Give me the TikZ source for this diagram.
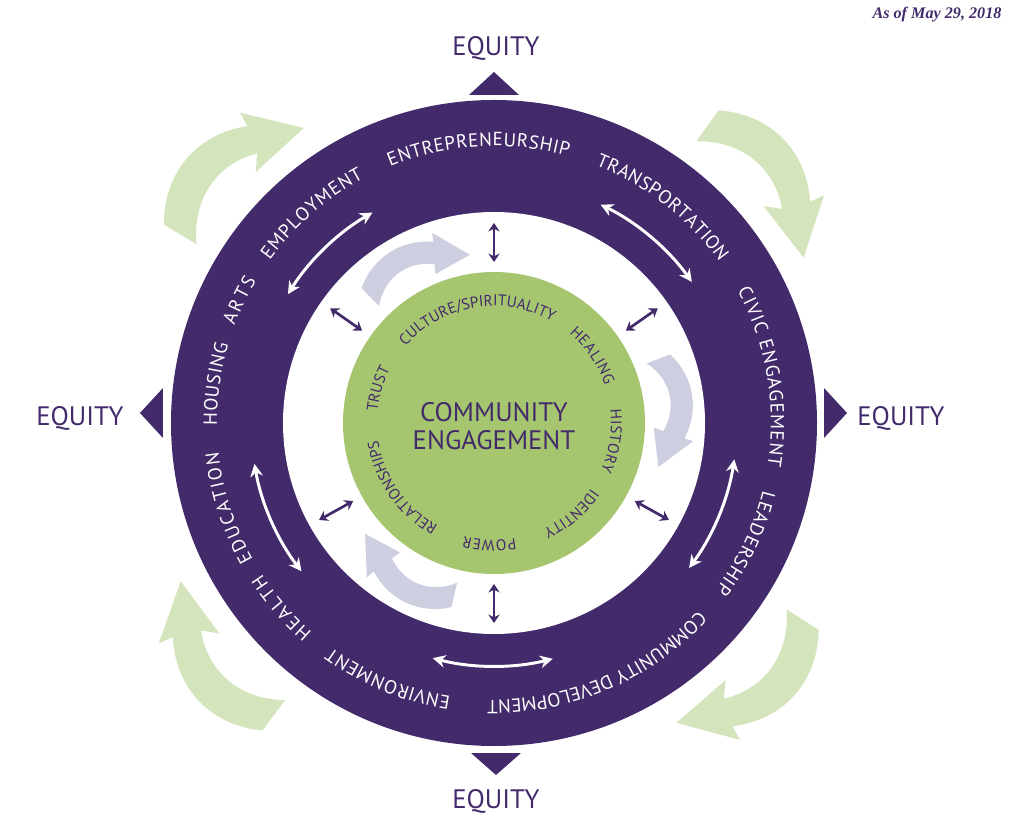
\documentclass[tikz,border=0pt]{standalone}
\usepackage{fontspec}
\setmainfont{PT Sans}
\newfontfamily\datefont{Liberation Serif}
\usetikzlibrary{arrows.meta}
\usetikzlibrary{decorations.text}
\definecolor{cepurple}{RGB}{66,42,107}
\definecolor{cegreen}{RGB}{166,197,111}
\definecolor{celightgreen}{RGB}{212,228,188}
\definecolor{cegrey}{RGB}{205,207,224}
\newcommand{\ringfont}{\fontsize{13.5}{13.5}\selectfont}
\newcommand{\corefont}{\fontsize{11}{11}\selectfont}
% curved arrows, #1 = tail angle
\newcommand{\greenswoosh}[1]{%
  \fill[celightgreen] (#1:348)
    -- plot[domain=0:1, samples=16, variable=\u] ({#1-19.3*\u}:{385+\u+80*\u*(1-\u)})
    -- (#1-19.7:401) -- (#1-26.2:351) -- (#1-15.5:346)
    -- plot[domain=0:1, samples=16, variable=\u] ({#1-17.7*(1-\u)}:{347+12*(1-\u)+68*\u*(1-\u)})
    -- cycle;}
\newcommand{\greyswoosh}[1]{%
  \fill[cegrey] (#1:164)
    -- plot[domain=0:1, samples=16, variable=\u] ({#1-26*\u}:{189+2*\u+40*\u*(1-\u)})
    -- (#1-26.5:200) -- (#1-36.3:170) -- (#1-23:160)
    -- plot[domain=0:1, samples=16, variable=\u] ({#1-24*(1-\u)}:{164+5.5*(1-\u)+44*\u*(1-\u)})
    -- cycle;}
\tikzset{
  equity/.style={text=cepurple, font=\fontsize{19}{19}\selectfont},
  core/.style={text=cepurple, align=center, font=\fontsize{19}{19.5}\selectfont},
  date/.style={text=cepurple, font=\datefont\bfseries\itshape\fontsize{11.5}{11.5}\selectfont},
  ringtext/.style={decorate, decoration={text along path, text align=fit to path, text color=white}},
  coretext/.style={decorate, decoration={text along path, text align=fit to path, text color=cepurple}},
  smallarrow/.style={cepurple, line width=1.9pt, <->, >={Stealth[length=6pt, width=8pt]}},
  whitearrow/.style={white, line width=2.1pt, <->, >={Stealth[length=9pt, width=9pt]}}
}
\begin{document}
\begin{tikzpicture}[x=0.025cm, y=0.025cm]
\useasboundingbox (-494,-411) rectangle (530,423);

% Outer swooshes
\greenswoosh{149}
\greenswoosh{54.3}
\greenswoosh{327.5}
\greenswoosh{233}

% Rings
\fill[cepurple] (0,0) circle[radius=323];
\fill[white] (0,0) circle[radius=211];

% Inner swooshes
\greyswoosh{134.5}
\greyswoosh{21.3}
\greyswoosh{257}

\fill[cegreen] (0,0) circle[radius=151];

% Equity markers
\fill[cepurple] (-25,328) -- (0,351) -- (25,328) -- cycle;
\fill[cepurple] (-23,-330) -- (2,-352) -- (27,-330) -- cycle;
\fill[cepurple] (-331,35) -- (-354,10) -- (-331,-15) -- cycle;
\fill[cepurple] (330,35) -- (353,10) -- (330,-15) -- cycle;

\node[equity] (eqtop) at (2,375) {EQUITY};
\node[equity] (eqbot) at (2,-378) {EQUITY};
\node[equity] (eqleft) at (-414,5) {EQUITY};
\node[equity] (eqright) at (407,5) {EQUITY};

\node[date] (asof) at (443,408) {As of May 29, 2018};

% Centre
\node[core] (ce) at (0,-3) {COMMUNITY\\ENGAGEMENT};

% Ring labels
\path[ringtext, decoration={text={|\ringfont|ENTREPRENEURSHIP}}] (112:277) arc[start angle=112, end angle=74.5, radius=277];
\path[ringtext, decoration={text={|\ringfont|TRANSPORTATION}}] (68.5:277) arc[start angle=68.5, end angle=35.5, radius=277];
\path[ringtext, decoration={text={|\ringfont|CIVIC ENGAGEMENT}}] (28.5:277) arc[start angle=28.5, end angle=-9, radius=277];
\path[ringtext, decoration={text={|\ringfont|LEADERSHIP}}] (-14:277) arc[start angle=-14, end angle=-37, radius=277];
\path[ringtext, decoration={text={|\ringfont|COMMUNITY DEVELOPMENT}}] (-42.5:277) arc[start angle=-42.5, end angle=-91, radius=277];
\path[ringtext, decoration={text={|\ringfont|ENVIRONMENT}}] (-99:277) arc[start angle=-99, end angle=-126, radius=277];
\path[ringtext, decoration={text={|\ringfont|HEALTH}}] (229:277) arc[start angle=229, end angle=213, radius=277];
\path[ringtext, decoration={text={|\ringfont|EDUCATION}}] (209.5:277) arc[start angle=209.5, end angle=186, radius=277];
\path[ringtext, decoration={text={|\ringfont|HOUSING}}] (180.5:277) arc[start angle=180.5, end angle=163.5, radius=277];
\path[ringtext, decoration={text={|\ringfont|ARTS}}] (159.5:277) arc[start angle=159.5, end angle=149, radius=277];
\path[ringtext, decoration={text={|\ringfont|EMPLOYMENT}}] (144:277) arc[start angle=144, end angle=118, radius=277];

% Core labels
\path[coretext, decoration={text={|\corefont|CULTURE/SPIRITUALITY}}] (139:117) arc[start angle=139, end angle=60.5, radius=117];
\path[coretext, decoration={text={|\corefont|HEALING}}] (50:117) arc[start angle=50, end angle=18.5, radius=117];
\path[coretext, decoration={text={|\corefont|HISTORY}}] (6.5:117) arc[start angle=6.5, end angle=-24, radius=117];
\path[coretext, decoration={text={|\corefont|IDENTITY}}] (-34:117) arc[start angle=-34, end angle=-65, radius=117];
\path[coretext, decoration={text={|\corefont|POWER}}] (-79.5:117) arc[start angle=-79.5, end angle=-105, radius=117];
\path[coretext, decoration={text={|\corefont|RELATIONSHIPS}}] (241.5:117) arc[start angle=241.5, end angle=188.5, radius=117];
\path[coretext, decoration={text={|\corefont|TRUST}}] (174.5:117) arc[start angle=174.5, end angle=153, radius=117];

% Connect core and ring
\foreach \a/\n in {90/top, 145/ul, 35/ur, 209/ll, 331/lr, 270/bot} {
  \coordinate (p-\n-in) at (\a:161);
  \coordinate (p-\n-out) at (\a:200);
  \draw[smallarrow] (p-\n-in) -- (p-\n-out);
}

% Connect ring labels
\foreach \s/\e/\n in {148/120/ul, 64/35.5/ur, -8.6/-36.6/r, -76/-104.6/b, 189.7/217.6/l} {
  \coordinate (w-\n) at (\s:243);
  \draw[whitearrow] (w-\n) arc[start angle=\s, end angle=\e, radius=243];
}

\end{tikzpicture}
\end{document}
